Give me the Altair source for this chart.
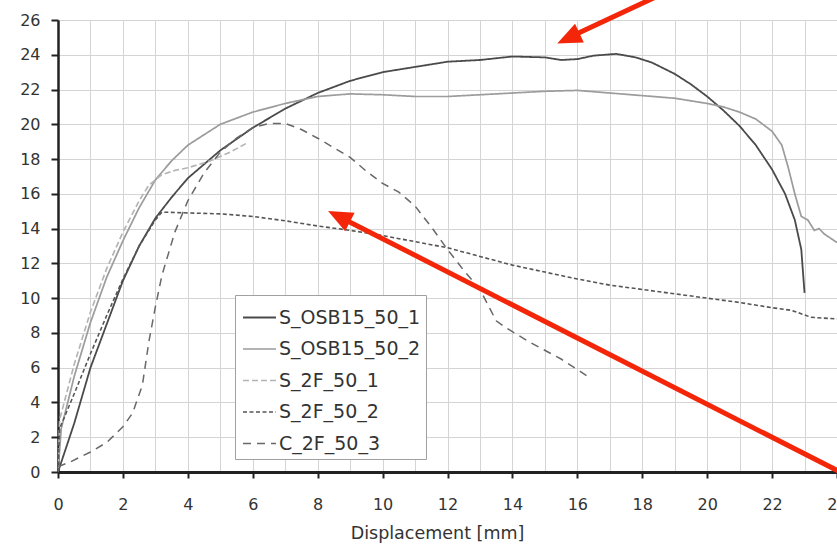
import altair as alt
import pandas as pd

names = ["S_OSB15_50_1", "S_OSB15_50_2", "S_2F_50_1", "S_2F_50_2", "C_2F_50_3"]
colors = ["#4a4a4a", "#9c9c9c", "#b4b4b4", "#555555", "#686868"]
dashes = [[1, 0], [1, 0], [6, 3], [4, 2.5], [8, 6]]
widths = [1.8, 1.5, 1.6, 1.8, 1.7]

x1 = [0, 0.5, 1, 1.5, 2, 2.5, 3, 3.5, 4, 5, 6, 7, 8, 9, 10, 11, 12, 13, 14, 15, 15.5,
      16, 16.5, 17.2, 17.8, 18.3, 19, 19.5, 20, 20.5, 21, 21.5, 22, 22.4, 22.7, 22.9, 23.0]
y1 = [0, 2.8, 6.0, 8.5, 11.0, 13.0, 14.6, 15.8, 16.9, 18.5, 19.8, 20.9, 21.8, 22.5, 23.0, 23.3,
      23.6, 23.7, 23.9, 23.85, 23.7, 23.75, 23.95, 24.05, 23.85, 23.55, 22.9, 22.3, 21.6, 20.8,
      19.9, 18.8, 17.4, 16.0, 14.5, 12.8, 10.3]

x2 = [0, 0.1, 0.5, 1, 1.5, 2, 2.5, 3, 3.5, 4, 5, 6, 7, 8, 9, 10, 11, 12, 13, 14, 15, 16, 17,
      18, 19, 20, 20.5, 21, 21.5, 22, 22.3, 22.5, 22.7, 22.9, 23.1, 23.3, 23.45, 23.6, 24]
y2 = [0, 2.5, 5.5, 8.6, 11.2, 13.3, 15.2, 16.8, 17.9, 18.8, 20.0, 20.7, 21.2, 21.6, 21.75, 21.7,
      21.6, 21.6, 21.7, 21.8, 21.9, 21.95, 21.8, 21.65, 21.5, 21.2, 21.0, 20.7, 20.3, 19.6, 18.8,
      17.5, 16.0, 14.7, 14.5, 13.9, 14.0, 13.7, 13.2]

x3 = [0, 0.05, 0.5, 1, 1.5, 2, 2.5, 2.8, 3.2, 3.6, 4, 4.7, 5.3, 5.8]
y3 = [0, 3.0, 6.2, 9.2, 11.7, 13.8, 15.6, 16.5, 17.1, 17.35, 17.5, 17.9, 18.4, 18.9]

x4 = [0, 0.05, 0.5, 1, 1.5, 2, 2.5, 3, 3.2, 4, 5, 6, 7, 8, 9, 10, 11, 12, 13, 14, 15, 16, 17,
      18, 19, 20, 21, 22, 22.6, 23.2, 24]
y4 = [0, 2.5, 4.5, 6.8, 9.0, 11.1, 13.0, 14.5, 14.95, 14.9, 14.85, 14.7, 14.45, 14.15, 13.9,
      13.6, 13.25, 12.9, 12.4, 11.9, 11.5, 11.1, 10.75, 10.5, 10.25, 10.0, 9.75, 9.45, 9.3, 8.9, 8.8]

x5 = [0, 0.4, 1, 1.5, 2, 2.3, 2.6, 2.8, 3.0, 3.2, 3.6, 4.0, 4.5, 5, 5.5, 6, 6.5, 7, 7.5, 8, 9,
      9.5, 10, 10.5, 11, 11.5, 12, 12.5, 13, 13.5, 13.8, 14.5, 15.5, 16.4]
y5 = [0.3, 0.6, 1.15, 1.7, 2.6, 3.4, 5.0, 7.5, 9.5, 11.3, 13.8, 15.6, 17.2, 18.4, 19.2, 19.8,
      20.05, 20.05, 19.7, 19.2, 18.1, 17.3, 16.6, 16.1, 15.3, 14.1, 12.8, 11.6, 10.5, 8.7, 8.3,
      7.5, 6.5, 5.4]

# annotation arrows (data units): tail, line end, tip, head angle
arrow_tail_x = [18.58, 24.37]
arrow_tail_y = [27.47, -0.26]
arrow_end_x = [15.66, 8.59]
arrow_end_y = [24.92, 14.76]
arrow_tip_x = [15.38, 8.32]
arrow_tip_y = [24.65, 15.02]
arrow_angle = [245, 297]

xs = [x1, x2, x3, x4, x5]
ys = [y1, y2, y3, y4, y5]
rows = []
for n, xx, yy in zip(names, xs, ys):
    for i, (a, b) in enumerate(zip(xx, yy)):
        rows.append({"series": n, "x": a, "y": b, "i": i})
df = pd.DataFrame(rows)

arrows = pd.DataFrame({
    "tx": arrow_tail_x, "ty": arrow_tail_y,
    "ex": arrow_end_x, "ey": arrow_end_y,
    "px": arrow_tip_x, "py": arrow_tip_y,
    "ang": arrow_angle,
})

FONT = "DejaVu Sans"
xscale = alt.Scale(domain=[0, 24], nice=False, zero=False)
yscale = alt.Scale(domain=[0, 26], nice=False, zero=False)

xaxis = alt.Axis(
    values=list(range(0, 25)),
    labelExpr="datum.value % 2 === 0 ? datum.label : ''",
    tickOpacity={"condition": {"test": "datum.value % 2 === 0", "value": 1}, "value": 0},
    title="Displacement [mm]",
    titleFont=FONT, titleFontSize=17.5, titleFontWeight="normal", titleColor="#333",
    titleX=379, titleY=66, titleBaseline="alphabetic", titleAlign="center", titleAnchor="start",
    labelFont=FONT, labelFontSize=16, labelColor="#333", labelPadding=18,
    labelFlush=False, labelOverlap=False,
    tickSize=6, tickWidth=2, tickColor="#222",
    domainColor="#222", domainWidth=3,
    grid=True, gridColor="#d4d4d4", gridWidth=1,
)
yaxis = alt.Axis(
    values=list(range(0, 27, 2)),
    title=None,
    labelFont=FONT, labelFontSize=16, labelColor="#333", labelPadding=11,
    labelFlush=False, labelOverlap=False, labelBound=False,
    tickSize=7, tickWidth=2, tickColor="#222",
    domainColor="#222", domainWidth=2.5,
    grid=True, gridColor="#d4d4d4", gridWidth=1,
)

lines = alt.Chart(df).mark_line(clip=True).encode(
    x=alt.X("x:Q", scale=xscale, axis=xaxis),
    y=alt.Y("y:Q", scale=yscale, axis=yaxis),
    color=alt.Color(
        "series:N",
        scale=alt.Scale(domain=names, range=colors),
        legend=alt.Legend(
            orient="none", legendX=177, legendY=275, title=None,
            symbolType="stroke", symbolSize=1089, symbolStrokeWidth=1.5,
            labelFont=FONT, labelFontSize=19, labelColor="#333",
            fillColor="white", strokeColor="#a0a0a0", padding=5,
            rowPadding=3.5, labelOffset=2, symbolOffset=2,
        ),
    ),
    strokeDash=alt.StrokeDash(
        "series:N", scale=alt.Scale(domain=names, range=dashes), legend=None
    ),
    strokeWidth=alt.StrokeWidth(
        "series:N", scale=alt.Scale(domain=names, range=widths), legend=None
    ),
    detail="series:N",
    order="i:Q",
)

arrow_lines = alt.Chart(arrows).mark_rule(
    color="#f4260a", strokeWidth=5, clip=False
).encode(
    x=alt.X("tx:Q", scale=xscale, axis=xaxis), y=alt.Y("ty:Q", scale=yscale, axis=yaxis),
    x2="ex:Q", y2="ey:Q",
)

arrow_heads = alt.Chart(arrows).mark_point(
    shape="M0,0L-0.85,2L0.85,2Z", filled=True, color="#f4260a", opacity=1,
    size=600, clip=False, strokeWidth=0
).encode(
    x=alt.X("px:Q", scale=xscale, axis=xaxis), y=alt.Y("py:Q", scale=yscale, axis=yaxis),
    angle=alt.Angle("ang:Q", scale=None),
)

chart = alt.layer(lines, arrow_lines, arrow_heads).properties(
    width=779, height=452,
    autosize=alt.AutoSizeParams(type="none"),
    padding={"left": 58, "top": 20, "right": 0, "bottom": 75},
    background="white",
).configure_view(stroke=None)

chart.save("out.html", embed_options={"renderer": "svg", "actions": False})
